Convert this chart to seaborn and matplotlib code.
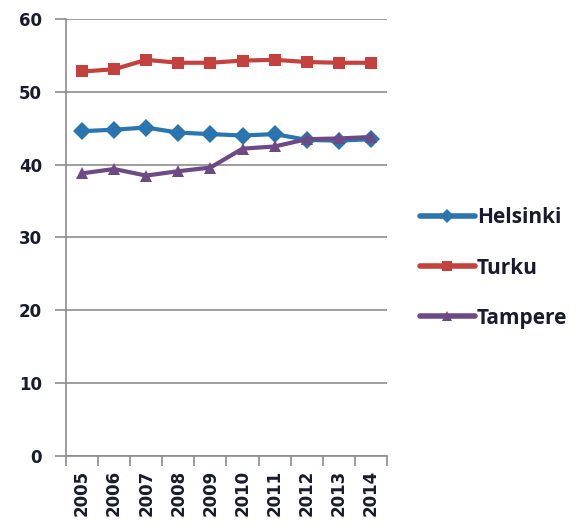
import pandas as pd
import matplotlib.pyplot as plt
import seaborn as sns
from matplotlib.ticker import FixedLocator

years = ["2005", "2006", "2007", "2008", "2009", "2010", "2011", "2012", "2013", "2014"]
helsinki = [44.6, 44.8, 45.1, 44.4, 44.2, 44.0, 44.2, 43.4, 43.3, 43.5]
turku = [52.8, 53.1, 54.4, 54.0, 54.0, 54.3, 54.4, 54.1, 54.0, 54.0]
tampere = [38.8, 39.4, 38.5, 39.1, 39.6, 42.2, 42.5, 43.5, 43.6, 43.8]

cities = ["Helsinki", "Turku", "Tampere"]
colors = ["#2A74B0", "#C4413D", "#6E4A85"]
markers = ["D", "s", "^"]

#Long-form table for seaborn
df = pd.DataFrame({
    "year": years * 3,
    "value": helsinki + turku + tampere,
    "city": [c for c in cities for _ in years],
})

sns.set_style("white")
plt.rcParams["font.family"] = ["Open Sans", "DejaVu Sans"]

fig = plt.figure(figsize=(5.77, 5.3), dpi=100)
ax = fig.add_axes([0.114, 0.14, 0.557, 0.824])

sns.lineplot(data=df, x="year", y="value", hue="city", style="city",
             palette=colors, markers=markers, dashes=False,
             linewidth=3, markersize=9, markeredgewidth=0, ax=ax)

ax.set_ylim(0, 60)
ax.set_xlim(-0.5, len(years) - 0.5)
ax.set_yticks(range(0, 61, 10))
ax.yaxis.grid(True, color="#8c8c8c", linewidth=1.2)
ax.set_axisbelow(True)

for side in ["top", "right"]:
    ax.spines[side].set_visible(False)
for side in ["left", "bottom"]:
    ax.spines[side].set_color("#8c8c8c")
    ax.spines[side].set_linewidth(1.2)

#Excel style: tick marks between categories
ax.xaxis.set_minor_locator(FixedLocator([i - 0.5 for i in range(len(years) + 1)]))
ax.tick_params(axis="x", which="major", bottom=True, length=0, pad=10)
ax.tick_params(axis="x", which="minor", bottom=True, length=7, color="#8c8c8c", width=1.2)
ax.tick_params(axis="y", left=True, length=8, color="#8c8c8c", width=1.2, pad=9)
plt.setp(ax.get_xticklabels(), rotation=90, fontsize=12, fontweight="bold",
         color="#1a1a2e", family="DejaVu Sans")
plt.setp(ax.get_yticklabels(), fontsize=12, fontweight="bold",
         color="#1a1a2e", family="DejaVu Sans")

ax.set_xlabel("")
ax.set_ylabel("")

leg = ax.legend(loc="center left", bbox_to_anchor=(1.045, 0.43), frameon=False,
                handlelength=2.6, labelspacing=1.4, handletextpad=0.1,
                prop={"weight": "bold", "size": 15})
for h in leg.legend_handles:
    h.set_linewidth(4)
    h.set_markersize(7)
for t in leg.get_texts():
    t.set_color("#1a1a2e")

fig.savefig("out.png", dpi=100)
